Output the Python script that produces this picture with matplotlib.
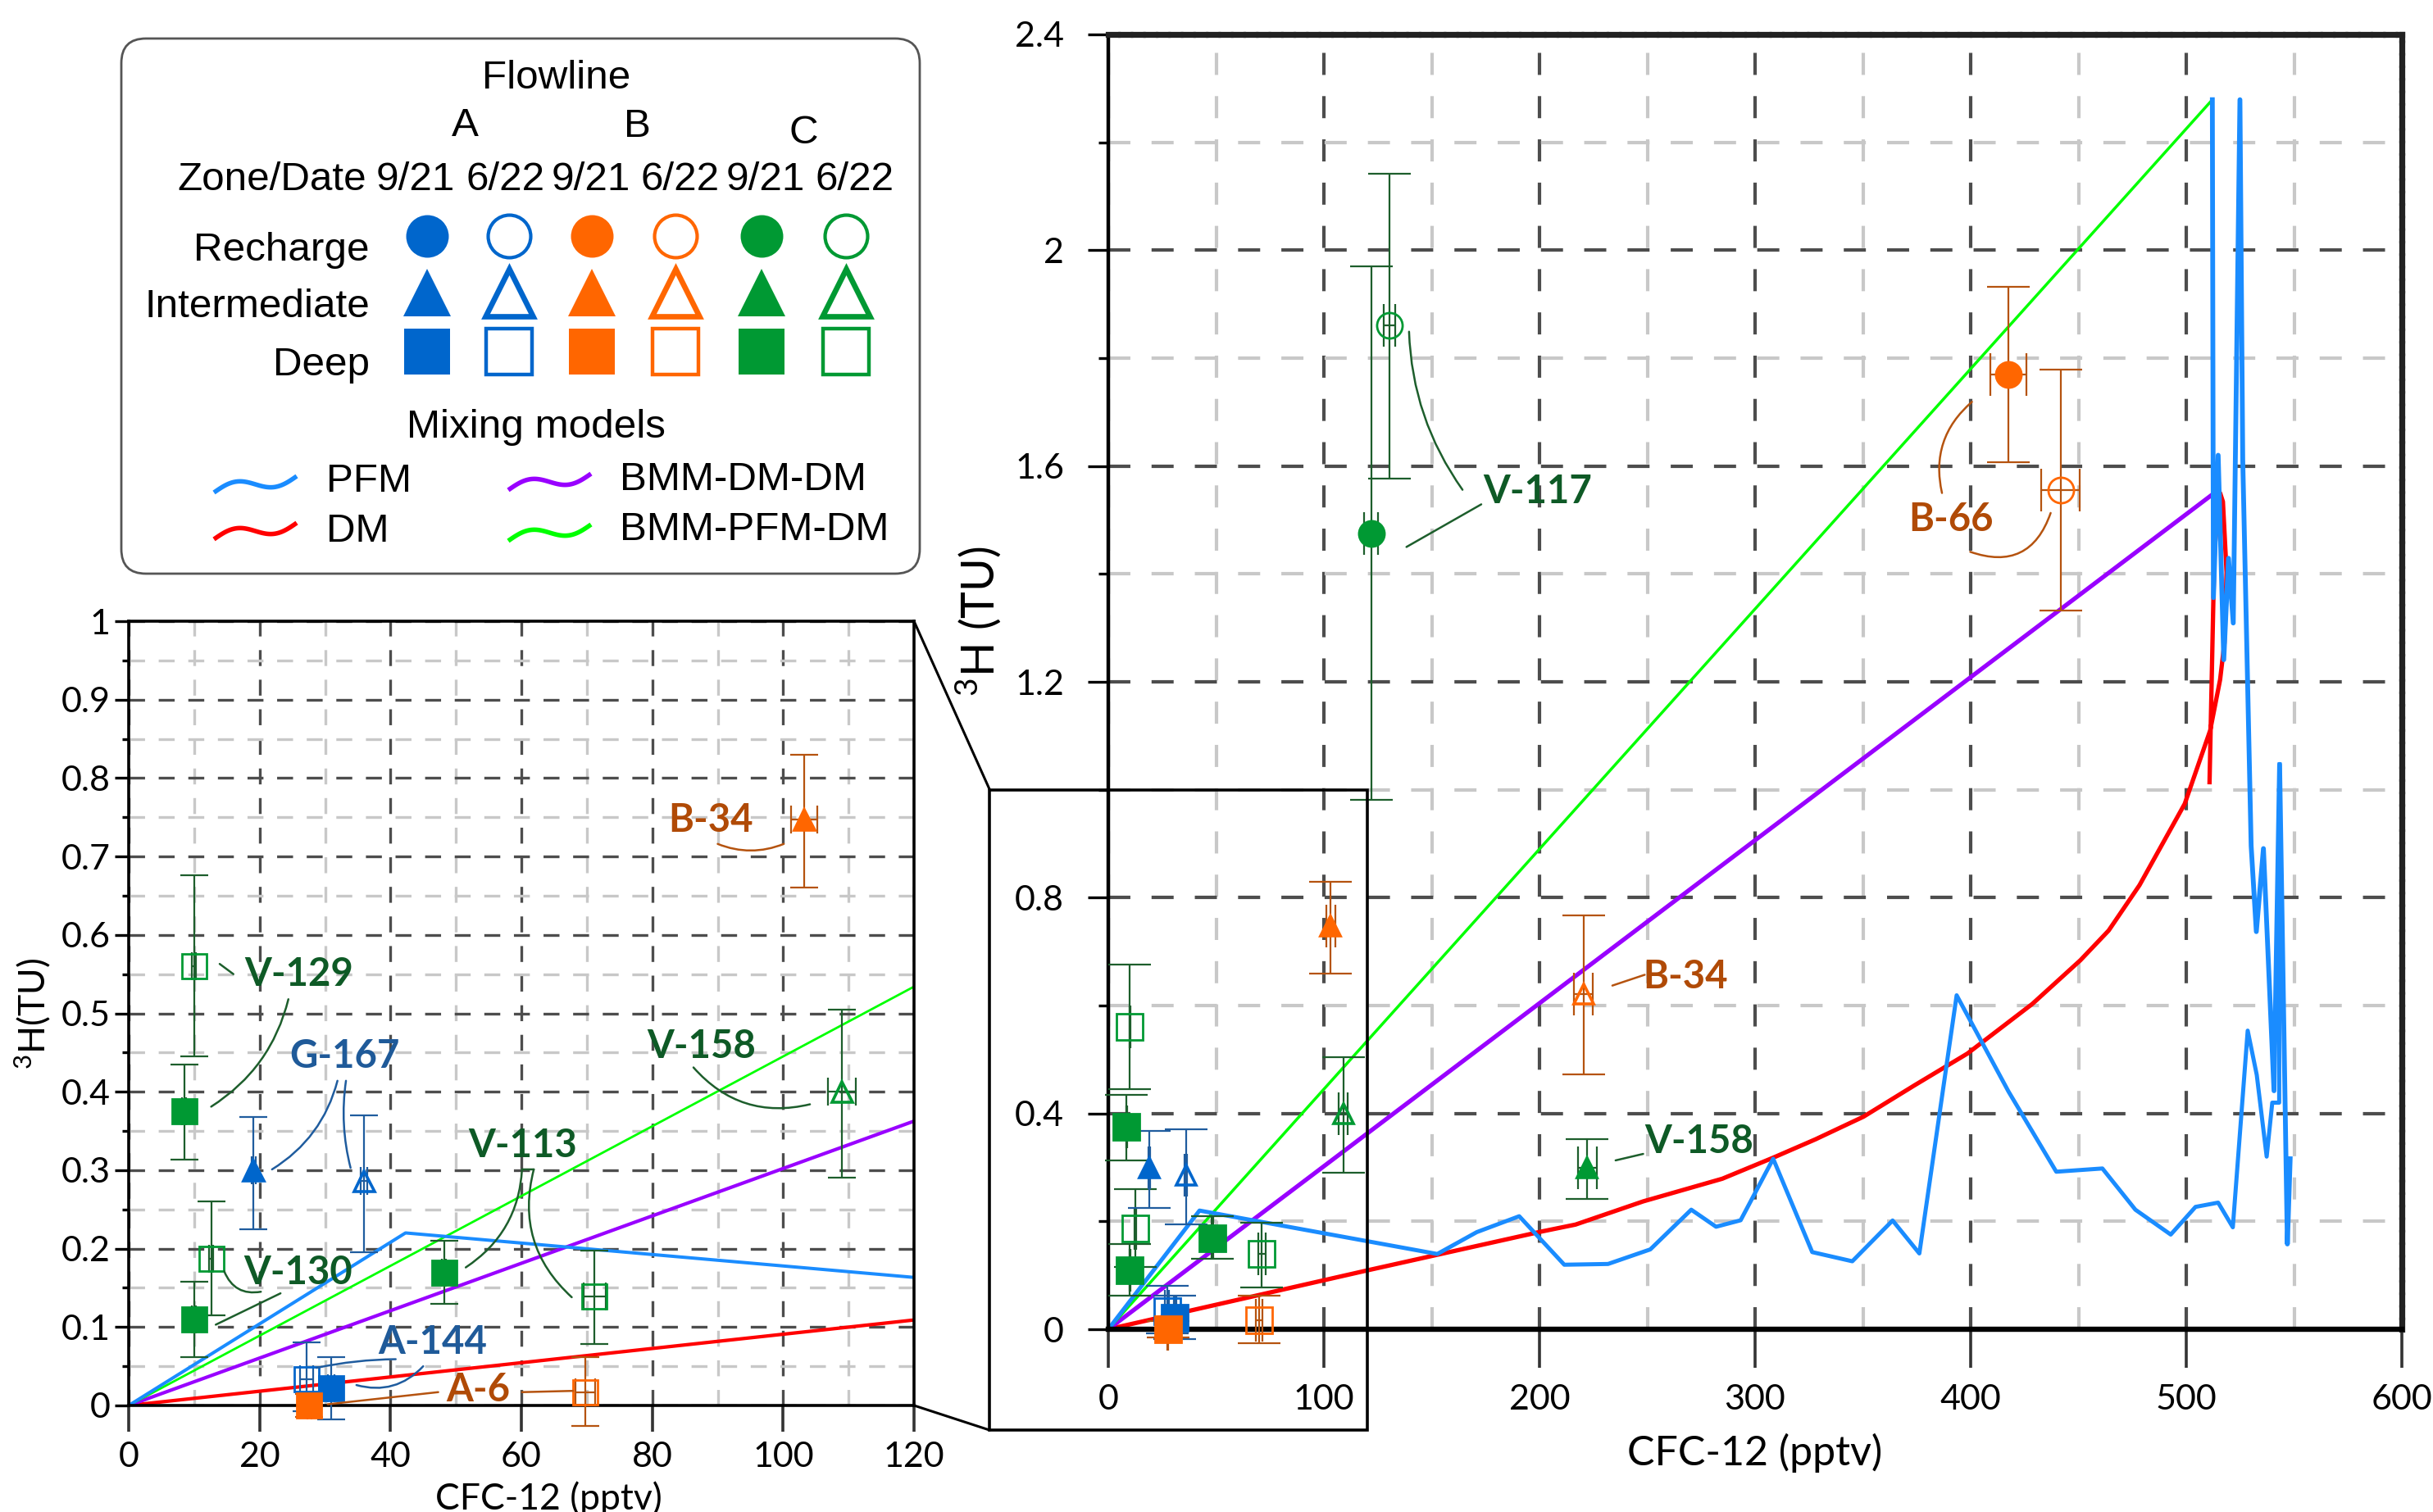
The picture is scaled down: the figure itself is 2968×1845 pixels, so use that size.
import numpy as np
import matplotlib
matplotlib.use("Agg")
import matplotlib.pyplot as plt
from matplotlib.patches import Rectangle, FancyBboxPatch, ConnectionPatch
from matplotlib.ticker import MultipleLocator, FuncFormatter

plt.rcParams['lines.scale_dashes'] = False
plt.rcParams['font.family'] = ['Lato', 'DejaVu Sans']
plt.rcParams['mathtext.default'] = 'regular'
plt.rcParams['axes.unicode_minus'] = False

# ---------------- sample data ----------------
well = ['V-129', 'V-129', 'V-130', 'V-130', 'G-167', 'G-167', 'V-113', 'V-113', 'V-158', 'B-34',
        'A-144', 'A-144', 'A-6', 'A-6', 'V-117', 'V-117', 'B-66', 'B-66', 'B-34', 'V-158']
flowline = ['C', 'C', 'C', 'C', 'A', 'A', 'C', 'C', 'C', 'B',
            'A', 'A', 'B', 'B', 'C', 'C', 'B', 'B', 'B', 'C']
sample_date = ['6/22', '9/21', '6/22', '9/21', '9/21', '6/22', '9/21', '6/22', '6/22', '9/21',
               '6/22', '9/21', '9/21', '6/22', '6/22', '9/21', '9/21', '6/22', '6/22', '9/21']
zone = ['Deep', 'Deep', 'Deep', 'Deep', 'Intermediate', 'Intermediate', 'Deep', 'Deep', 'Intermediate', 'Intermediate',
        'Deep', 'Deep', 'Deep', 'Deep', 'Recharge', 'Recharge', 'Recharge', 'Recharge', 'Intermediate', 'Intermediate']
cfc12 = [10.0, 8.5, 12.6, 10.0, 19.1, 36.0, 48.2, 71.2, 109.0, 103.2,
         27.2, 30.9, 27.6, 69.8, 130.4, 121.9, 417.5, 441.7, 220.4, 222.2]
cfc12_err = [0.3, 0.3, 0.3, 0.3, 0.3, 0.5, 0.3, 1.7, 2.1, 2.0,
             1.0, 0.5, 0.3, 1.5, 2.8, 3.2, 8.5, 8.9, 4.4, 4.5]
h3 = [0.560, 0.375, 0.187, 0.110, 0.300, 0.286, 0.169, 0.139, 0.400, 0.747,
      0.033, 0.022, 0.000, 0.017, 1.860, 1.475, 1.770, 1.556, 0.622, 0.300]
h3_err_lo = [0.115, 0.062, 0.072, 0.048, 0.075, 0.091, 0.039, 0.061, 0.110, 0.087,
             0.040, 0.040, 0.015, 0.043, 0.283, 0.494, 0.163, 0.224, 0.149, 0.059]
h3_err_hi = [0.116, 0.060, 0.073, 0.048, 0.068, 0.084, 0.041, 0.059, 0.105, 0.083,
             0.047, 0.040, 0.015, 0.045, 0.282, 0.495, 0.162, 0.222, 0.145, 0.052]

# ---------------- mixing model curves ----------------
pfm_cfc_a = [0, 42.3, 152.6, 170.9, 190.6, 211.5, 231.8, 251.4, 270.4, 281.9, 293.3, 308.4, 326.5,
             345.1, 363.8, 376.2, 393.5, 417.5, 439.7, 461.1, 476.4, 492.8, 504.3, 514.8, 521.6,
             528.5, 532.7, 537.3, 539.9, 543.1, 543.3]
pfm_h3_a = [0, 0.220, 0.1395, 0.180, 0.2095, 0.1196, 0.121, 0.148, 0.2216, 0.190, 0.202, 0.316, 0.143,
            0.126, 0.2016, 0.1405, 0.619, 0.441, 0.292, 0.298, 0.2216, 0.1755, 0.2268, 0.2347, 0.189,
            0.5535, 0.4715, 0.320, 0.420, 0.420, 1.047]
pfm_cfc_b = [512.1, 512.6, 514.8, 517.4, 519.6, 521.8, 524.9, 526.2, 530.1, 532.5, 535.8, 540.7,
             543.3, 546.9, 548.2]
pfm_h3_b = [2.279, 1.356, 1.620, 1.241, 1.429, 1.309, 2.279, 1.612, 0.896, 0.737, 0.891, 0.442,
            1.047, 0.158, 0.316]
dm_cfc = [0, 120, 200.8, 216.7, 248.1, 284.8, 308.4, 328.0, 350.3, 373.9, 398.5, 428.6, 450.9, 464.0,
          478.3, 499.3, 511.1, 515.7, 517.7, 518.7, 517.0, 515.7, 513.2, 512.6, 510.8]
dm_h3 = [0, 0.109, 0.181, 0.194, 0.237, 0.279, 0.318, 0.352, 0.394, 0.452, 0.511, 0.603, 0.684, 0.739,
         0.823, 0.974, 1.110, 1.204, 1.272, 1.403, 1.534, 1.550, 1.450, 1.356, 1.014]
bmm_dm_dm_cfc = [0, 515.0]
bmm_dm_dm_h3 = [0, 1.556]
bmm_pfm_dm_cfc = [0, 512.1]
bmm_pfm_dm_h3 = [0, 2.279]

# ---------------- styles ----------------
FILL = {'A': '#0066CC', 'B': '#FF6600', 'C': '#009933'}
ECOL = {'A': '#1F5C9E', 'B': '#B5530F', 'C': '#1D5E2C'}
TCOL = {'A': '#1F5A99', 'B': '#B04A06', 'C': '#0E5A26'}
MARK = {'Recharge': 'o', 'Intermediate': '^', 'Deep': 's'}
C_PFM, C_DM, C_BDD, C_BPD = '#1A8CFF', '#FF0000', '#9900FF', '#00FF00'
DARK, LIGHT = '#4D4D4D', '#C8C8C8'

FIG_W, FIG_H = 2968, 1845
fig = plt.figure(figsize=(FIG_W / 200, FIG_H / 200), dpi=200)

ax = fig.add_axes([1352 / FIG_W, 1 - 1622 / FIG_H, (2930 - 1352) / FIG_W, (1622 - 42) / FIG_H])
axi = fig.add_axes([157 / FIG_W, 1 - 1715 / FIG_H, (1115 - 157) / FIG_W, (1715 - 758) / FIG_H])

fmt = FuncFormatter(lambda v, p: f'{v:g}')


def style_axes(a, xmaj, xmin, ymaj, ymin, dash, glw, xlen, ylen, ylen_min, xpad, ypad):
    a.xaxis.set_major_locator(MultipleLocator(xmaj))
    a.xaxis.set_minor_locator(MultipleLocator(xmin))
    a.yaxis.set_major_locator(MultipleLocator(ymaj))
    a.yaxis.set_minor_locator(MultipleLocator(ymin))
    a.xaxis.set_major_formatter(fmt)
    a.yaxis.set_major_formatter(fmt)
    a.set_axisbelow(True)
    a.grid(True, which='major', color=DARK, lw=glw, ls=dash)
    a.grid(True, which='minor', color=LIGHT, lw=glw, ls=dash)
    a.tick_params(axis='x', which='major', direction='out', length=xlen, width=1.3,
                  color='#333333', pad=xpad, labelsize=15.5)
    a.tick_params(axis='x', which='minor', length=0)
    a.tick_params(axis='y', which='major', direction='out', length=ylen, width=1.2,
                  color='black', pad=ypad, labelsize=15.5)
    a.tick_params(axis='y', which='minor', direction='out', length=ylen_min, width=1.2, color='black')


style_axes(ax, 100, 50, 0.4, 0.2, (0, (9.7, 9.3)), 1.5, 17, 9, 4.5, 7, 10.4)
style_axes(axi, 20, 10, 0.1, 0.05, (0, (7, 6)), 1.2, 11.5, 6, 3, 4.5, 2)

ax.set_xlim(0, 600)
ax.set_ylim(0, 2.4)
axi.set_xlim(0, 120)
axi.set_ylim(0, 1)

ax.spines['left'].set_linewidth(1.6)
ax.spines['bottom'].set_linewidth(2.3)
for s in ['top', 'right']:
    ax.spines[s].set_linewidth(2.6)
    ax.spines[s].set_color('#222222')
    ax.spines[s].set_linestyle((0, (4, 1.5)))
for s in axi.spines.values():
    s.set_linewidth(1.3)
    s.set_color('black')

ax.set_xlabel('CFC-12 (pptv)', fontsize=18)
ax.xaxis.set_label_coords(0.5, -0.08)
ax.set_ylabel('$^{3}$H (TU)', fontsize=20)
ax.yaxis.set_label_coords(-0.082, 0.547)
axi.set_xlabel('CFC-12 (pptv)', fontsize=16)
axi.xaxis.set_label_coords(0.535, -0.097)
axi.set_ylabel('$^{3}$H(TU)', fontsize=16)
axi.yaxis.set_label_coords(-0.097, 0.5)


def draw_models(a, lw_scale):
    a.plot(dm_cfc, dm_h3, color=C_DM, lw=1.9 * lw_scale, zorder=2.1, solid_joinstyle='round')
    a.plot(bmm_dm_dm_cfc, bmm_dm_dm_h3, color=C_BDD, lw=1.9 * lw_scale, zorder=2.2)
    a.plot(bmm_pfm_dm_cfc, bmm_pfm_dm_h3, color=C_BPD, lw=1.25 * lw_scale, zorder=2.3)
    a.plot(pfm_cfc_a, pfm_h3_a, color=C_PFM, lw=1.8 * lw_scale, zorder=2.4, solid_joinstyle='round')
    a.plot(pfm_cfc_b, pfm_h3_b, color=C_PFM, lw=2.1 * lw_scale, zorder=2.4, solid_joinstyle='round')


draw_models(ax, 1.0)
draw_models(axi, 0.8)


def draw_samples(a, idx, capsize, sizes, elw):
    for i in idx:
        fl = flowline[i]
        eb = a.errorbar(cfc12[i], h3[i], xerr=cfc12_err[i], yerr=[[h3_err_lo[i]], [h3_err_hi[i]]],
                        fmt='none', ecolor=ECOL[fl], elinewidth=elw, capsize=capsize, capthick=elw,
                        zorder=4)
        for art in eb.get_children():
            art.set_clip_on(False)
        filled = sample_date[i] == '9/21'
        m = MARK[zone[i]]
        a.plot(cfc12[i], h3[i], marker=m, ms=sizes[m], ls='none',
               mfc=FILL[fl] if filled else 'none', mec=FILL[fl],
               mew=1.0 if m != '^' else 1.3, zorder=5, clip_on=False)


all_idx = list(range(len(cfc12)))
inset_idx = [i for i in all_idx if cfc12[i] <= 120 and h3[i] <= 1.0]
draw_samples(ax, all_idx, 9.5, {'s': 11.4, 'o': 11.2, '^': 8.8}, 0.8)
draw_samples(axi, inset_idx, 6, {'s': 10.6, 'o': 10.6, '^': 9.0}, 0.8)

# ---------------- labels and leader lines ----------------
LAB_FONT = dict(fontsize=17, fontweight='bold', ha='center', va='baseline', zorder=6)

inset_labels = [
    ('V-129', 'C', 25.95, 0.535, [((13.9, 0.563), (16.0, 0.550), 0.0), ((24.4, 0.518), (12.6, 0.381), -0.2)]),
    ('G-167', 'A', 33.0, 0.430, [((31.9, 0.414), (21.9, 0.301), -0.2), ((33.2, 0.414), (33.9, 0.303), 0.1)]),
    ('V-130', 'C', 25.9, 0.155, [((14.6, 0.171), (20.2, 0.145), 0.4), ((23.2, 0.143), (13.3, 0.103), 0.0)]),
    ('V-113', 'C', 60.2, 0.317, [((60.1, 0.301), (61.9, 0.301), 0.0), ((60.1, 0.301), (51.5, 0.176), -0.25),
                                 ((61.9, 0.301), (67.7, 0.138), 0.3)]),
    ('V-158', 'C', 87.5, 0.443, [((86.3, 0.431), (104.1, 0.384), 0.3)]),
    ('B-34', 'B', 88.9, 0.731, [((90.0, 0.716), (100.1, 0.716), 0.2)]),
    ('A-144', 'A', 46.4, 0.066, [((40.8, 0.059), (28.7, 0.048), 0.05), ((45.0, 0.050), (34.8, 0.026), -0.3)]),
    ('A-6', 'B', 53.4, 0.005, [((47.3, 0.017), (30.4, 0.0015), 0.0), ((60.1, 0.017), (67.9, 0.0186), 0.0)]),
]
main_labels = [
    ('V-117', 'C', 199.0, 1.531, [((164.3, 1.556), (139.5, 1.849), -0.15), ((173.0, 1.529), (138.3, 1.450), 0.0)]),
    ('B-66', 'B', 390.9, 1.480, [((386.7, 1.550), (400.6, 1.719), -0.3), ((399.8, 1.441), (437.1, 1.513), 0.5)]),
    ('B-34', 'B', 267.7, 0.632, [((233.8, 0.637), (248.8, 0.657), 0.0)]),
    ('V-158', 'C', 274.0, 0.327, [((235.3, 0.313), (248.1, 0.325), 0.0)]),
]


def draw_labels(a, labels):
    for text, fl, tx, ty, leaders in labels:
        a.text(tx, ty, text, color=TCOL[fl], **LAB_FONT)
        for start, end, rad in leaders:
            a.annotate('', xy=end, xytext=start, zorder=6,
                       arrowprops=dict(arrowstyle='-', color=ECOL[fl], lw=0.9,
                                       shrinkA=0, shrinkB=0,
                                       connectionstyle=f'arc3,rad={rad}'))


draw_labels(axi, inset_labels)
draw_labels(ax, main_labels)

# ---------------- zoom box and connectors ----------------
ax.add_patch(Rectangle((-55, -0.187), 175, 1.187, fill=False, ec='black', lw=1.3,
                       clip_on=False, zorder=7))
for (xa, ya), (xb, yb) in [((120, 1.0), (-55, 1.0)), ((120, 0.0), (-55, -0.187))]:
    cp = ConnectionPatch(xyA=(xa, ya), coordsA=axi.transData, xyB=(xb, yb), coordsB=ax.transData,
                         color='black', lw=1.1, zorder=7)
    fig.add_artist(cp)

# ---------------- legend (drawn in figure pixel space) ----------------
lax = fig.add_axes([0, 0, 1, 1], zorder=10)
lax.set_xlim(0, FIG_W)
lax.set_ylim(FIG_H, 0)
lax.axis('off')

lax.add_patch(FancyBboxPatch((148, 47), 974, 653, boxstyle='round,pad=0,rounding_size=30',
                             fc='white', ec='#555555', lw=1.0))
LF = dict(family=['Liberation Sans', 'DejaVu Sans'], fontsize=17.8, color='black')
lax.text(679, 108, 'Flowline', ha='center', va='baseline', **LF)
for lab, x, yb in [('A', 567, 166), ('B', 777, 167), ('C', 980, 175)]:
    lax.text(x, yb, lab, ha='center', va='baseline', **LF)
lax.text(447, 232, 'Zone/Date', ha='right', va='baseline', **LF)
col_fl = ['A', 'A', 'B', 'B', 'C', 'C']
col_date = ['9/21', '6/22', '9/21', '6/22', '9/21', '6/22']
date_x = [507, 617, 721, 830, 934, 1043]
mark_x = [521, 621, 722, 824, 929, 1032]
for x, d in zip(date_x, col_date):
    lax.text(x, 232, d, ha='center', va='baseline', **LF)
rows = [('Recharge', 318, 288, 18.7, 1.5), ('Intermediate', 387, 357, 21.0, 2.4), ('Deep', 458, 429, 20.5, 1.6)]
for name, yb, ym, msz, mew in rows:
    lax.text(451, yb, name, ha='right', va='baseline', **LF)
    for x, fl, d in zip(mark_x, col_fl, col_date):
        filled = d == '9/21'
        lax.plot(x, ym, marker=MARK[name], ms=msz, ls='none',
                 mfc=FILL[fl] if filled else 'white', mec=FILL[fl], mew=0 if filled else mew)
lax.text(654, 534, 'Mixing models', ha='center', va='baseline', **LF)

t = np.linspace(0, 1, 60)
for name, col, x0, yc, tx, tyb in [('PFM', C_PFM, 261, 591, 398, 600),
                                    ('DM', C_DM, 261, 648, 398, 661),
                                    ('BMM-DM-DM', C_BDD, 620, 588, 756, 598),
                                    ('BMM-PFM-DM', C_BPD, 620, 650, 756, 659)]:
    lax.plot(x0 + 101 * t, yc + 10 - 20 * t - 8 * np.sin(2 * np.pi * t), color=col, lw=2.0,
             solid_capstyle='butt')
    lax.text(tx, tyb, name, ha='left', va='baseline', **LF)

fig.savefig('out.png', dpi=200)
